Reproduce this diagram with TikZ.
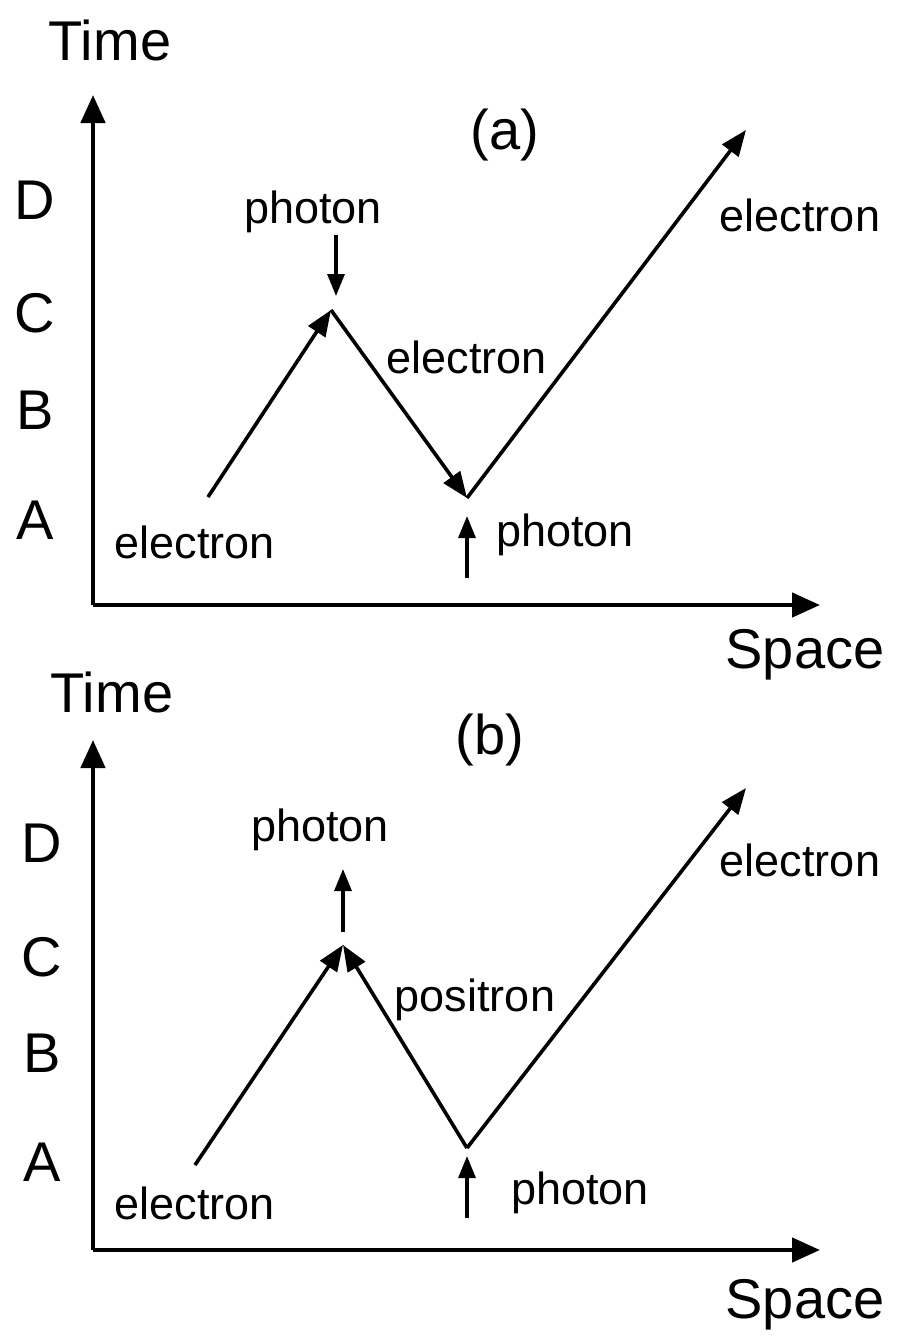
\documentclass[tikz,border=0pt]{standalone}
\usepackage{fontspec}
\setmainfont{Liberation Sans}
\usetikzlibrary{arrows.meta}
\begin{document}
\begin{tikzpicture}[x=0.5pt,y=-0.5pt,
  axis/.style={line width=2.3pt,-{Triangle[length=14pt,width=12pt]}},
  path/.style={line width=1.8pt,-{Triangle[length=13pt,width=10pt]}},
  phot/.style={line width=1.6pt,-{Triangle[length=11pt,width=8.5pt]}},
  big/.style={font=\fontsize{28}{30}\selectfont,inner sep=0pt},
  lab/.style={font=\fontsize{22.5}{25}\selectfont,inner sep=0pt}]
\useasboundingbox (0,0) rectangle (898,1340);
% ---------- panel (a)
\coordinate (ao) at (93,605);
\coordinate (ay) at (93,95);
\coordinate (ax) at (820,605);
\draw[axis] (ao) -- (ay);
\draw[axis] (ao) -- (ax);
\node[big] (atime) at (110,40) {Time};
\node[big] (aspace) at (805,655) {Space};
\node[big] (aD) at (35,200) {D};
\node[big] (aC) at (35,313) {C};
\node[big] (aB) at (35,410) {B};
\node[big] (aA) at (35,520) {A};
\node[big] (alab) at (505,135) {(a)};
\coordinate (a1) at (208,497);
\coordinate (a2) at (331,310);
\coordinate (a3) at (467,498);
\coordinate (a4) at (746,130);
\draw[path] (a1) -- (a2);
\draw[path] (a2) -- (a3);
\draw[path] (a3) -- (a4);
\coordinate (ap1s) at (336,235);
\coordinate (ap1e) at (336,296);
\draw[phot] (ap1s) -- (ap1e);
\coordinate (ap2s) at (467,578);
\coordinate (ap2e) at (467,516);
\draw[phot] (ap2s) -- (ap2e);
\node[lab] (aphot1) at (313,212) {photon};
\node[lab] (ael2) at (467,357) {electron};
\node[lab] (ael1) at (195,542) {electron};
\node[lab] (ael3) at (800,215) {electron};
\node[lab] (aphot2) at (565,535) {photon};
% ---------- panel (b)
\coordinate (bo) at (93,1250);
\coordinate (by) at (93,740);
\coordinate (bx) at (820,1250);
\draw[axis] (bo) -- (by);
\draw[axis] (bo) -- (bx);
\node[big] (btime) at (112,692) {Time};
\node[big] (bspace) at (805,1305) {Space};
\node[big] (bD) at (42,843) {D};
\node[big] (bC) at (42,957) {C};
\node[big] (bB) at (42,1053) {B};
\node[big] (bA) at (42,1162) {A};
\node[big] (blab) at (490,740) {(b)};
\coordinate (b1) at (195,1165);
\coordinate (b2) at (343,945);
\coordinate (b3) at (467,1148);
\coordinate (b4) at (746,788);
\draw[path] (b1) -- (b2);
\draw[path] (b3) -- (b2);
\draw[path] (b3) -- (b4);
\coordinate (bp1s) at (343,932);
\coordinate (bp1e) at (343,869);
\draw[phot] (bp1s) -- (bp1e);
\coordinate (bp2s) at (467,1218);
\coordinate (bp2e) at (467,1156);
\draw[phot] (bp2s) -- (bp2e);
\node[lab] (bphot1) at (320,830) {photon};
\node[lab] (bpos) at (475,1000) {positron};
\node[lab] (bel1) at (195,1203) {electron};
\node[lab] (bel3) at (800,860) {electron};
\node[lab] (bphot2) at (580,1193) {photon};
\end{tikzpicture}
\end{document}
